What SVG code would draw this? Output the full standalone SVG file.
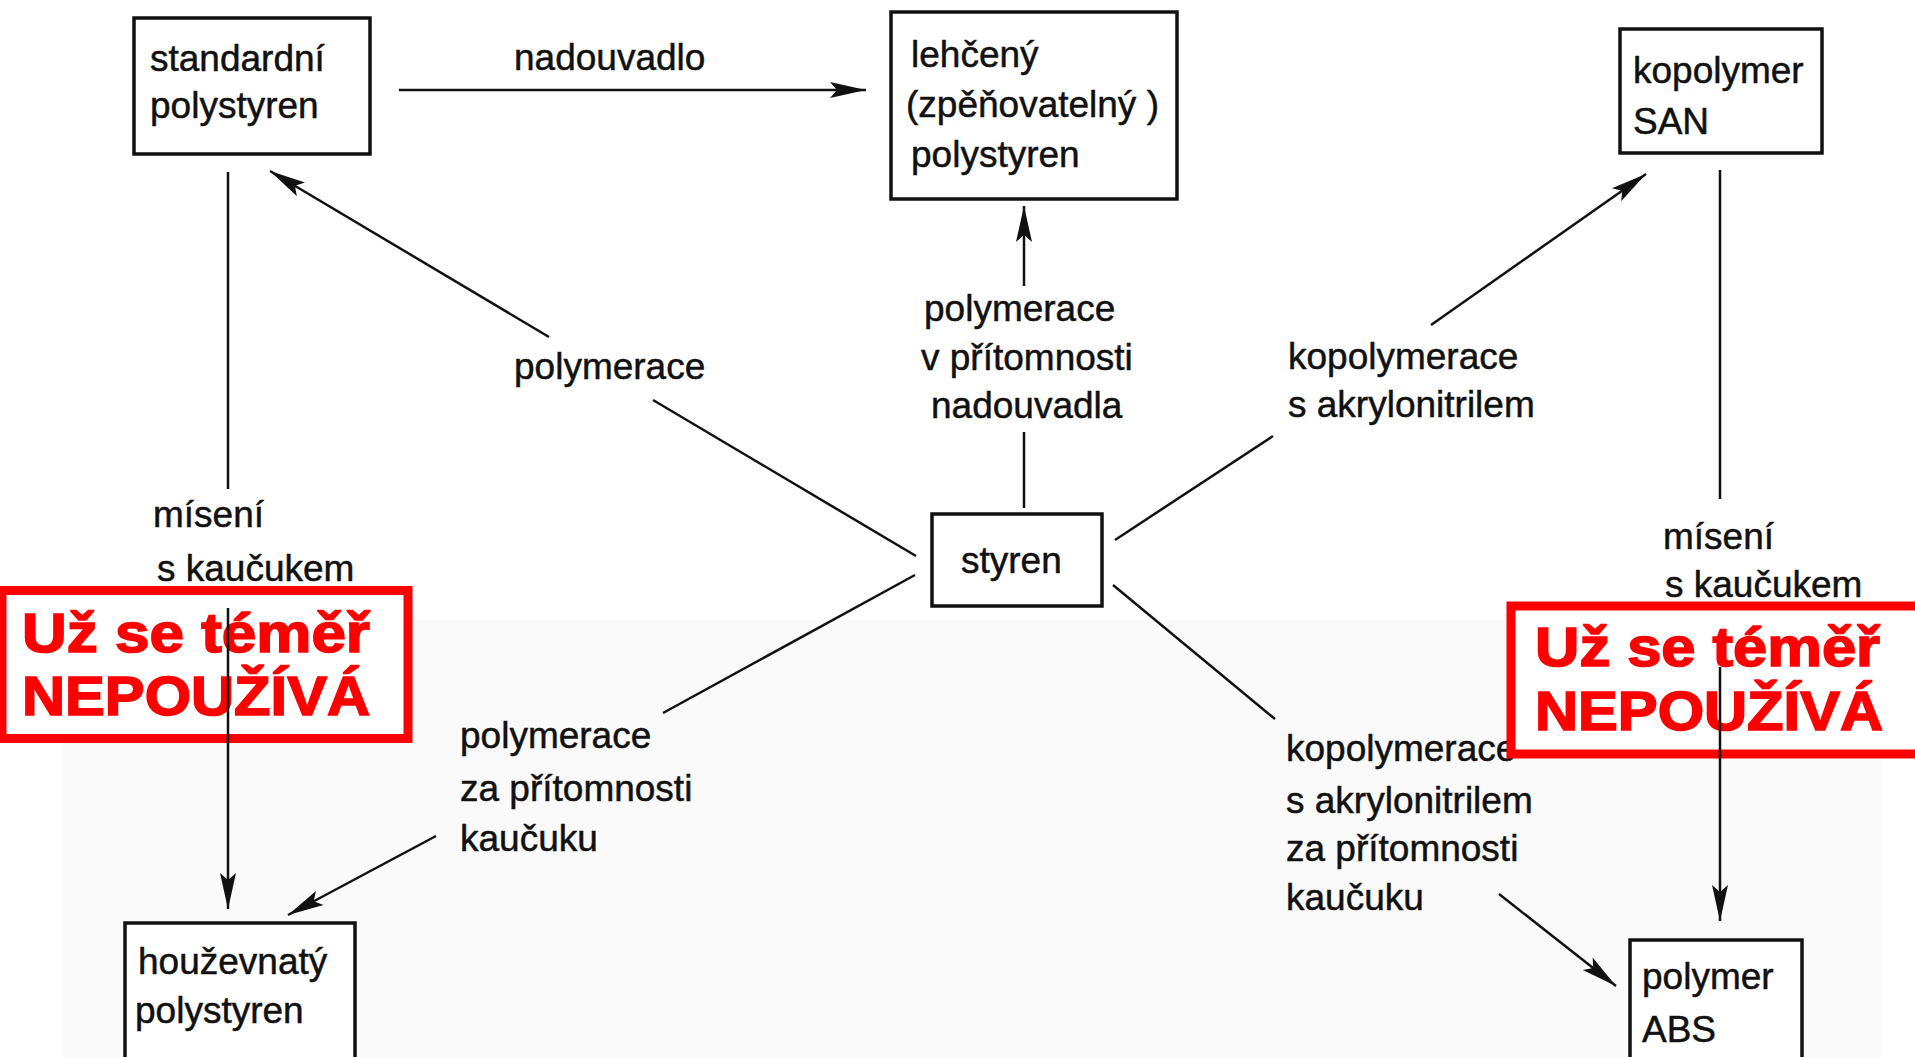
<svg xmlns="http://www.w3.org/2000/svg" width="1915" height="1057" viewBox="0 0 1915 1057">
<style>
.box{fill:#fff;stroke:#111;stroke-width:3.5}
.t{font-family:"Liberation Sans",Arial,sans-serif;font-size:37px;fill:#111;stroke:#111;stroke-width:0.5}
.ln{fill:none;stroke:#111;stroke-width:2.5}
.red{fill:#fff;stroke:#ff0000;stroke-width:9}
.rt{font-family:"Liberation Sans",Arial,sans-serif;font-weight:bold;font-size:55px;fill:#ff0000;stroke:#ff0000;stroke-width:1.6}
</style>
<defs>
<marker id="ah" viewBox="-40 -10 42 20" refX="0" refY="0" markerWidth="42" markerHeight="20" markerUnits="userSpaceOnUse" orient="auto">
<path d="M0,0 L-36,-8 L-29,0 L-36,8 Z" fill="#111"/>
</marker>
</defs>
<rect x="0" y="0" width="1915" height="1057" fill="#fff"/>
<rect x="63" y="620" width="1818" height="437" fill="#fafafa"/>

<g id="node-standard">
<rect class="box" x="134" y="18" width="236" height="136"/>
<text class="t" x="150" y="71">standardní</text>
<text class="t" x="150" y="118">polystyren</text>
</g>
<g id="node-lehceny">
<rect class="box" x="891" y="12" width="286" height="187"/>
<text class="t" x="911" y="67">lehčený</text>
<text class="t" x="906" y="117">(zpěňovatelný )</text>
<text class="t" x="911" y="167">polystyren</text>
</g>
<g id="node-san">
<rect class="box" x="1620" y="29" width="202" height="124"/>
<text class="t" x="1633" y="83">kopolymer</text>
<text class="t" x="1633" y="134">SAN</text>
</g>
<g id="node-styren">
<rect class="box" x="932" y="514" width="170" height="92"/>
<text class="t" x="961" y="573">styren</text>
</g>
<g id="node-houzevnaty">
<rect class="box" x="125" y="923" width="230" height="150"/>
<text class="t" x="138" y="974">houževnatý</text>
<text class="t" x="135" y="1023">polystyren</text>
</g>
<g id="node-abs">
<rect class="box" x="1630" y="940" width="172" height="130"/>
<text class="t" x="1642" y="989">polymer</text>
<text class="t" x="1642" y="1042">ABS</text>
</g>

<g id="labels">
<text class="t" x="514" y="70">nadouvadlo</text>
<text class="t" x="514" y="379">polymerace</text>
<text class="t" x="924" y="321">polymerace</text>
<text class="t" x="921" y="370">v přítomnosti</text>
<text class="t" x="931" y="418">nadouvadla</text>
<text class="t" x="1288" y="369">kopolymerace</text>
<text class="t" x="1288" y="417">s akrylonitrilem</text>
<text class="t" x="153" y="527">mísení</text>
<text class="t" x="157" y="581">s kaučukem</text>
<text class="t" x="1663" y="549">mísení</text>
<text class="t" x="1665" y="597">s kaučukem</text>
<text class="t" x="460" y="748">polymerace</text>
<text class="t" x="460" y="801">za přítomnosti</text>
<text class="t" x="460" y="851">kaučuku</text>
<text class="t" x="1286" y="761">kopolymerace</text>
<text class="t" x="1286" y="813">s akrylonitrilem</text>
<text class="t" x="1286" y="861">za přítomnosti</text>
<text class="t" x="1286" y="910">kaučuku</text>
</g>

<g id="note-left">
<rect class="red" x="2" y="590.5" width="406" height="148"/>
<text class="rt" x="22" y="652" textLength="348" lengthAdjust="spacingAndGlyphs">Už se téměř</text>
<text class="rt" x="22" y="715" textLength="348" lengthAdjust="spacingAndGlyphs">NEPOUŽÍVÁ</text>
</g>
<g id="note-right">
<rect class="red" x="1511" y="606" width="420" height="148"/>
<text class="rt" x="1535" y="666" textLength="345" lengthAdjust="spacingAndGlyphs">Už se téměř</text>
<text class="rt" x="1535" y="730" textLength="348" lengthAdjust="spacingAndGlyphs">NEPOUŽÍVÁ</text>
</g>

<g id="connectors">
<line class="ln" x1="399" y1="90" x2="866" y2="90" stroke-width="4" marker-end="url(#ah)"/>
<line class="ln" x1="916" y1="556" x2="653" y2="400"/>
<line class="ln" x1="549" y1="337" x2="270" y2="171" marker-end="url(#ah)"/>
<line class="ln" x1="1024" y1="508" x2="1024" y2="432"/>
<line class="ln" x1="1024" y1="286" x2="1024" y2="206" marker-end="url(#ah)"/>
<line class="ln" x1="1115" y1="540" x2="1273" y2="436"/>
<line class="ln" x1="1431" y1="325" x2="1646" y2="174" marker-end="url(#ah)"/>
<line class="ln" x1="1720" y1="170" x2="1720" y2="499"/>
<line class="ln" x1="1720" y1="667" x2="1720" y2="921" marker-end="url(#ah)"/>
<line class="ln" x1="228" y1="172" x2="228" y2="489"/>
<line class="ln" x1="228" y1="608" x2="228" y2="909" marker-end="url(#ah)"/>
<line class="ln" x1="915" y1="575" x2="663" y2="713"/>
<line class="ln" x1="436" y1="836" x2="288" y2="915" marker-end="url(#ah)"/>
<line class="ln" x1="1113" y1="585" x2="1275" y2="719"/>
<line class="ln" x1="1499" y1="894" x2="1616" y2="986" marker-end="url(#ah)"/>
</g>
</svg>
